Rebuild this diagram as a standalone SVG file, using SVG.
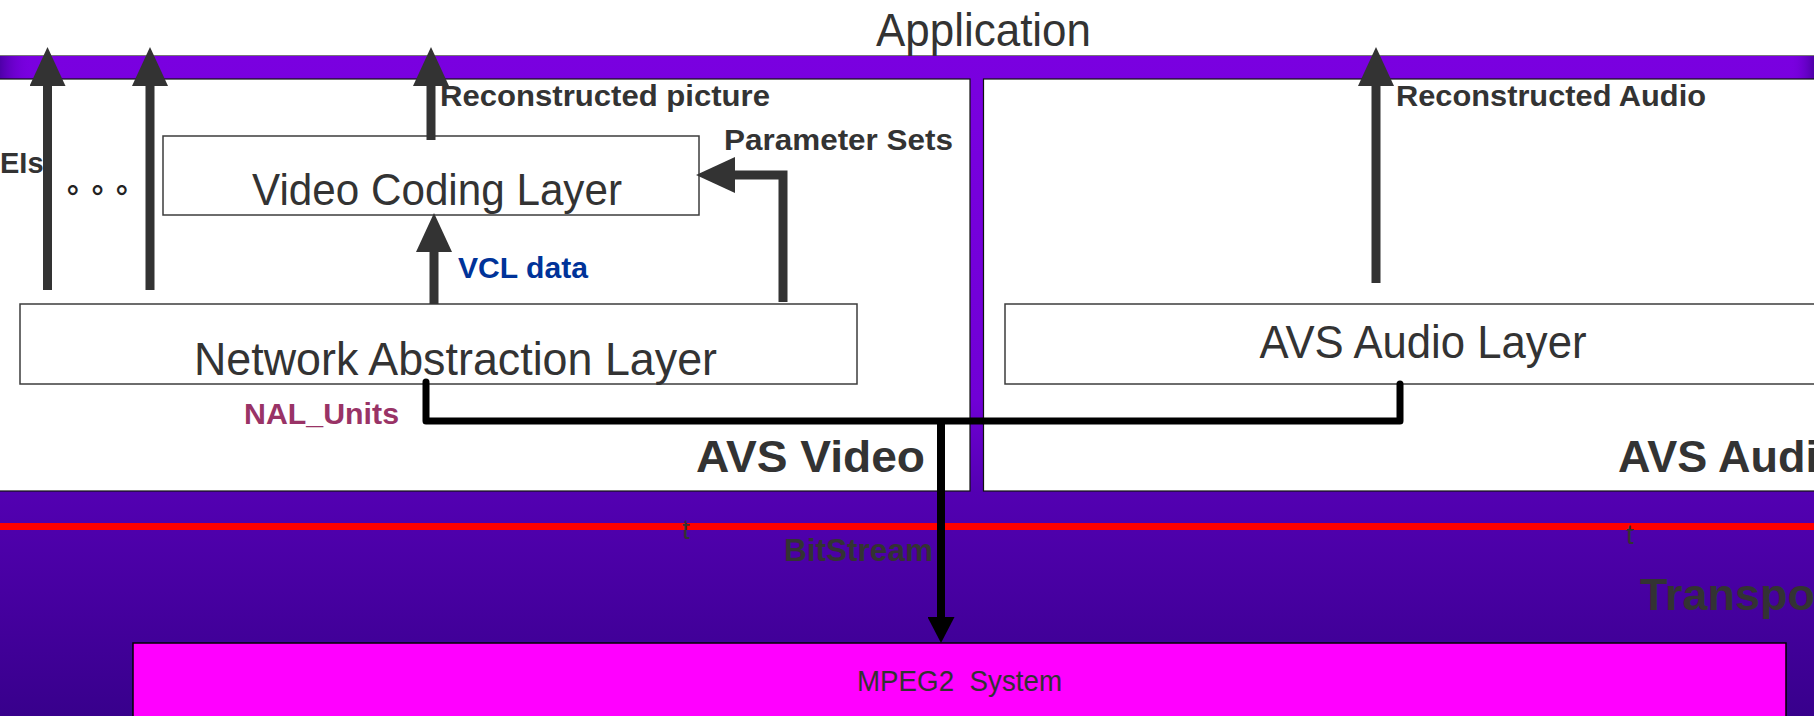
<svg xmlns="http://www.w3.org/2000/svg" width="1814" height="716" viewBox="0 0 1814 716">
  <defs>
    <linearGradient id="bgGrad" gradientUnits="userSpaceOnUse" x1="0" y1="55" x2="0" y2="716">
      <stop offset="0" stop-color="#7A00E0"/>
      <stop offset="0.52" stop-color="#7000D6"/>
      <stop offset="0.66" stop-color="#5300B2"/>
      <stop offset="1" stop-color="#38008C"/>
    </linearGradient>
    <linearGradient id="edgeL" x1="0" y1="0" x2="1" y2="0">
      <stop offset="0" stop-color="#4E00A8"/>
      <stop offset="1" stop-color="#7A00E0" stop-opacity="0"/>
    </linearGradient>
    <linearGradient id="edgeR" x1="0" y1="0" x2="1" y2="0">
      <stop offset="0" stop-color="#7A00E0" stop-opacity="0"/>
      <stop offset="1" stop-color="#4E00A8"/>
    </linearGradient>
    <marker id="headGray" markerUnits="userSpaceOnUse" viewBox="0 0 39 36" markerWidth="39" markerHeight="36" refX="0" refY="18" orient="auto">
      <path d="M0,0 L39,18 L0,36 z" fill="#333333"/>
    </marker>
    <marker id="headBlack" markerUnits="userSpaceOnUse" viewBox="0 0 26 27" markerWidth="26" markerHeight="27" refX="0" refY="13.5" orient="auto">
      <path d="M0,0 L26,13.5 L0,27 z" fill="#000000"/>
    </marker>
    <style>
      .t { font-family: "Liberation Sans", Arial, sans-serif; fill: #333333; }
      .b { font-weight: bold; }
      .layer { fill: #ffffff; stroke: #3c3c3c; stroke-width: 1.5; }
      .panel { fill: #ffffff; stroke: #111111; stroke-width: 1.2; }
      .gray { fill: none; stroke: #333333; stroke-width: 9; marker-end: url(#headGray); }
      .bus { fill: none; stroke: #000000; stroke-width: 7; stroke-linejoin: round; stroke-linecap: round; }
    </style>
  </defs>

  <!-- background -->
  <rect x="0" y="0" width="1814" height="716" fill="#ffffff"/>
  <rect x="0" y="55" width="1814" height="661" fill="url(#bgGrad)"/>
  <rect x="0" y="55" width="32" height="24" fill="url(#edgeL)"/>
  <rect x="1790" y="55" width="24" height="24" fill="url(#edgeR)"/>
  <line x1="0" y1="55.5" x2="1814" y2="55.5" stroke="#777777" stroke-width="1"/>

  <text class="t" x="876" y="46" font-size="46" textLength="215" lengthAdjust="spacingAndGlyphs">Application</text>

  <!-- codec panels -->
  <g id="avs-video">
    <rect class="panel" x="-5" y="79" width="975" height="412"/>
    <text class="t b" x="696" y="472" font-size="45" textLength="229" lengthAdjust="spacingAndGlyphs">AVS Video</text>
  </g>
  <g id="avs-audio">
    <rect class="panel" x="983.5" y="79" width="840" height="412"/>
    <text class="t b" x="1618" y="472" font-size="45">AVS Audio</text>
  </g>

  <!-- transport strip -->
  <g id="transport">
    <rect x="0" y="523" width="1814" height="7" fill="#FF0000"/>
    <text class="t b" x="1640" y="610" font-size="45">Transport</text>
    <text class="t" x="682" y="539" font-size="28">t</text>
    <text class="t" x="1626" y="544" font-size="28">t</text>
  </g>

  <g id="mpeg2-system">
    <rect x="133" y="643" width="1653" height="90" fill="#FF00FF" stroke="#000000" stroke-width="1.5"/>
    <text class="t" x="857" y="691" font-size="29" textLength="205" lengthAdjust="spacingAndGlyphs" xml:space="preserve">MPEG2  System</text>
  </g>

  <g id="video-coding-layer">
    <rect class="layer" x="163" y="136" width="536" height="79"/>
    <text class="t" x="252" y="205" font-size="44" textLength="370" lengthAdjust="spacingAndGlyphs">Video Coding Layer</text>
  </g>

  <g id="network-abstraction-layer">
    <rect class="layer" x="20" y="304" width="837" height="80"/>
    <text class="t" x="194" y="375" font-size="47" textLength="523" lengthAdjust="spacingAndGlyphs">Network Abstraction Layer</text>
  </g>

  <g id="avs-audio-layer">
    <rect class="layer" x="1005" y="304" width="830" height="80"/>
    <text class="t" x="1259.5" y="358" font-size="46" textLength="327" lengthAdjust="spacingAndGlyphs">AVS Audio Layer</text>
  </g>

  <!-- connectors -->
  <g id="connectors">
    <path class="gray" d="M47.5,290 V86"/>
    <path class="gray" d="M150,290 V86"/>
    <path class="gray" d="M431,140 V86"/>
    <path class="gray" d="M1376,283 V86"/>
    <path class="gray" d="M434,304 V252"/>
    <path class="gray" d="M783,302 V175 H735" stroke-linejoin="miter"/>
    <path class="bus" d="M426,382 V421 H1400 V384"/>
    <path d="M941,421 V617" fill="none" stroke="#000000" stroke-width="8" marker-end="url(#headBlack)"/>
  </g>

  <!-- connector labels -->
  <g id="labels">
    <text class="t b" x="0" y="173" font-size="29">EIs</text>
    <text x="67 91.7 116" y="192" font-size="30" font-weight="bold" fill="#222222" font-family="'Noto Sans CJK SC', 'Liberation Sans', sans-serif">。。。</text>
    <text class="t b" x="440" y="106" font-size="29" textLength="330" lengthAdjust="spacingAndGlyphs">Reconstructed picture</text>
    <text class="t b" x="724" y="150" font-size="30" textLength="229" lengthAdjust="spacingAndGlyphs">Parameter Sets</text>
    <text class="t b" x="458" y="278" font-size="29" textLength="130" lengthAdjust="spacingAndGlyphs" style="fill:#003399">VCL data</text>
    <text class="t b" x="244" y="424" font-size="30" textLength="155" lengthAdjust="spacingAndGlyphs" style="fill:#993366">NAL_Units</text>
    <text class="t b" x="1396" y="106" font-size="30" textLength="310" lengthAdjust="spacingAndGlyphs">Reconstructed Audio</text>
    <text class="t b" x="784" y="561" font-size="31" textLength="149" lengthAdjust="spacingAndGlyphs">BitStream</text>
  </g>
</svg>
